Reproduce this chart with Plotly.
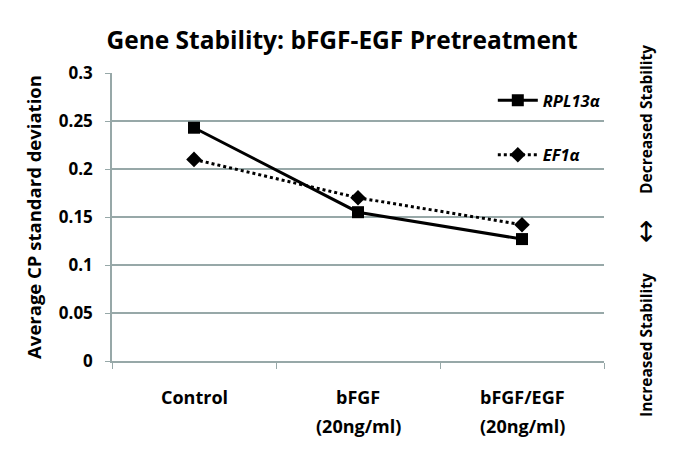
import plotly.graph_objects as go

# values
categories = ["Control", "bFGF", "bFGF/EGF"]
category_sub = ["", "(20ng/ml)", "(20ng/ml)"]
rpl13a = [0.243, 0.155, 0.127]
ef1a = [0.210, 0.170, 0.142]
y_ticks = [0, 0.05, 0.1, 0.15, 0.2, 0.25, 0.3]
y_tick_labels = ["0", "0.05", "0.1", "0.15", "0.2", "0.25", "0.3"]

grid_col = "#97a8a8"
font_fam = "Open Sans"

fig = go.Figure()
fig.add_trace(go.Scatter(x=categories, y=rpl13a, mode="lines+markers",
                         name="<b><i>RPL13α</i></b>", legendgroup="a",
                         line=dict(color="black", width=3),
                         marker=dict(symbol="square", size=12, color="black")))
fig.add_trace(go.Scatter(x=categories, y=ef1a, mode="lines+markers",
                         name="<b><i>EF1α</i></b>", legendgroup="b",
                         line=dict(color="black", width=3, dash="dot"),
                         marker=dict(symbol="diamond", size=12, color="black")))

# page is drawn with an 8px body margin, so the figure is 8px smaller
fig.update_layout(
    width=677, height=458,
    margin=dict(l=104, r=81, t=65, b=105),
    paper_bgcolor="white", plot_bgcolor="white",
    font=dict(family=font_fam, color="black"),
    title=dict(text="<b>Gene Stability: bFGF-EGF Pretreatment</b>",
               x=0.4934, xanchor="center", y=0.930, yanchor="middle",
               font=dict(size=24.5, family=font_fam)),
    showlegend=True,
    legend=dict(x=0.774, y=0.965, xanchor="left", yanchor="top",
                bgcolor="rgba(0,0,0,0)", tracegroupgap=30, itemwidth=40,
                font=dict(size=16.5, family=font_fam)),
)

fig.update_xaxes(range=[-0.5, 2.5], showgrid=False, showline=True,
                 linecolor=grid_col, linewidth=1.5,
                 ticks="outside", tickson="boundaries", tickcolor=grid_col, ticklen=6,
                 showticklabels=False)
fig.update_yaxes(range=[0, 0.3], tickvals=y_ticks,
                 ticktext=["<b>%s</b>" % t for t in y_tick_labels],
                 showgrid=True, gridcolor=grid_col, gridwidth=1.5,
                 showline=True, linecolor=grid_col, linewidth=1.5,
                 ticks="outside", tickcolor=grid_col, ticklen=5, ticklabelstandoff=9,
                 tickfont=dict(size=17, family=font_fam), zeroline=False,
                 title=dict(text="<b>Average CP standard deviation</b>",
                            font=dict(size=18.5, family=font_fam), standoff=12))

# category labels (two lines, wide line spacing like the original)
for cat, sub in zip(categories, category_sub):
    fig.add_annotation(text="<b>%s</b>" % cat, xref="x", yref="paper", x=cat, y=-0.125,
                       showarrow=False, xanchor="center", yanchor="middle",
                       font=dict(size=18, family=font_fam, color="black"))
    if sub:
        fig.add_annotation(text="<b>%s</b>" % sub, xref="x", yref="paper", x=cat, y=-0.225,
                           showarrow=False, xanchor="center", yanchor="middle",
                           font=dict(size=18, family=font_fam, color="black"))

# right-hand side label
side_font = dict(size=15.5, family=font_fam, color="black")
side = [("<b>Decreased Stability</b>", 0.837, side_font),
        ("↔", 0.448, dict(size=28, family="DejaVu Sans", color="black")),
        ("<b>Increased Stability</b>", 0.0556, side_font)]
for txt, yy, fnt in side:
    fig.add_annotation(text=txt, xref="paper", yref="paper", x=1.0854, y=yy,
                       xanchor="center", yanchor="middle", textangle=-90,
                       showarrow=False, font=fnt)

fig.write_html("out.html")
